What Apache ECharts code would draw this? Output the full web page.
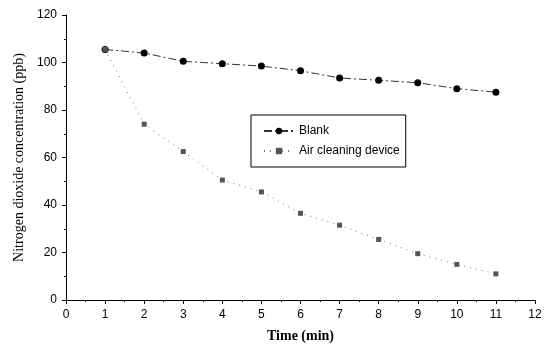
<!DOCTYPE html>
<html>
<head>
<meta charset="utf-8">
<script src="https://cdn.jsdelivr.net/npm/echarts@6/dist/echarts.min.js"></script>
<style>
html,body{margin:0;padding:0;background:#fff;}
#c{width:554px;height:352px;}
</style>
</head>
<body>
<div id="c"></div>
<script>
var timeMin = [1, 2, 3, 4, 5, 6, 7, 8, 9, 10, 11];
var blank = [105.5, 104, 100.5, 99.5, 98.5, 96.5, 93.5, 92.5, 91.5, 89, 87.5];
var airCleaning = [105.5, 74, 62.5, 50.5, 45.5, 36.5, 31.5, 25.5, 19.5, 15, 11];
var seriesNames = ['Blank', 'Air cleaning device'];
var xTitle = 'Time (min)';
var yTitle = 'Nitrogen dioxide concentration (ppb)';

function pairs(xs, ys) { return xs.map(function (x, i) { return [x, ys[i]]; }); }

var sans = '"Liberation Sans", Arial, sans-serif';
var serif = '"Liberation Serif", "Times New Roman", serif';
var chart = echarts.init(document.getElementById('c'), null, {renderer: 'canvas'});
chart.setOption({
  animation: false,
  backgroundColor: '#fff',
  grid: {left: 66, right: 19, top: 15, bottom: 52},
  legend: {
    orient: 'vertical',
    left: 251, top: 115,
    data: seriesNames,
    borderColor: '#000', borderWidth: 1,
    padding: [10, 6, 10, 12],
    itemWidth: 30, itemHeight: 8, itemGap: 8,
    textStyle: {fontFamily: sans, fontSize: 12, color: '#000'}
  },
  xAxis: {
    type: 'value', min: 0, max: 12, interval: 1,
    name: xTitle, nameLocation: 'middle', nameGap: 29,
    nameTextStyle: {fontFamily: serif, fontWeight: 'bold', fontSize: 14, color: '#000'},
    axisLine: {lineStyle: {color: '#000', width: 1}},
    axisTick: {length: 4, lineStyle: {color: '#000'}},
    minorTick: {show: true, splitNumber: 2, length: 2, lineStyle: {color: '#000'}},
    axisLabel: {fontFamily: sans, fontSize: 12, color: '#000', margin: 9},
    splitLine: {show: false}
  },
  yAxis: {
    type: 'value', min: 0, max: 120, interval: 20,
    name: yTitle, nameLocation: 'middle', nameGap: 40,
    nameTextStyle: {fontFamily: serif, fontSize: 14, color: '#000'},
    axisLine: {show: true, lineStyle: {color: '#000', width: 1}},
    axisTick: {show: true, length: 4, lineStyle: {color: '#000'}},
    minorTick: {show: true, splitNumber: 2, length: 2, lineStyle: {color: '#000'}},
    axisLabel: {fontFamily: sans, fontSize: 12, color: '#000', margin: 9},
    splitLine: {show: false}
  },
  series: [
    {
      name: seriesNames[0], type: 'line',
      data: pairs(timeMin, blank),
      symbol: 'circle', symbolSize: 7,
      itemStyle: {color: '#000'},
      lineStyle: {color: '#333', width: 1, type: [8, 3, 2, 3]}
    },
    {
      name: seriesNames[1], type: 'line',
      data: pairs(timeMin, airCleaning),
      symbol: 'rect', symbolSize: 5,
      itemStyle: {color: '#555'},
      lineStyle: {color: '#777', width: 1, type: [1, 5]}
    }
  ]
});
</script>
</body>
</html>
